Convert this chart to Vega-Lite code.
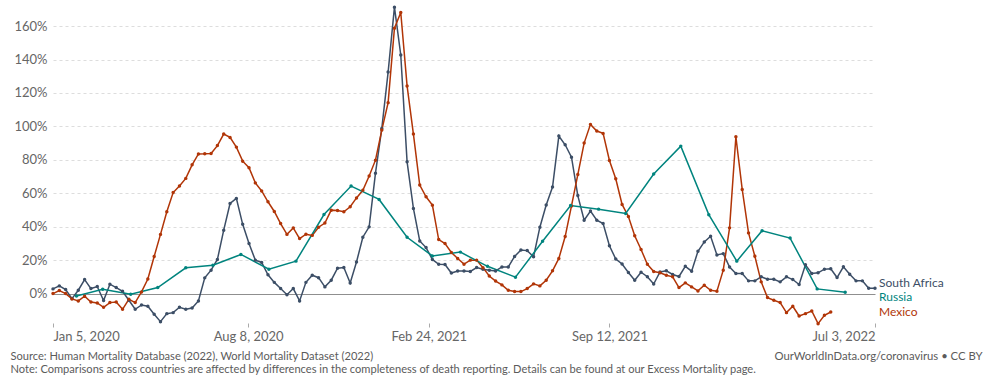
{
  "$schema": "https://vega.github.io/schema/vega-lite/v6.json",
  "width": 822,
  "height": 317,
  "autosize": {"type": "none"},
  "padding": {"left": 53, "top": 6, "right": 128, "bottom": 69},
  "background": "#ffffff",
  "config": {"font": "Lato", "view": {"stroke": null}},
  "data": {
    "format": {"parse": {"date": "date:'%Y-%m-%d'"}},
    "values": [
      {"country":"South Africa","date":"2020-01-05","value":2.8},
      {"country":"South Africa","date":"2020-01-12","value":4.6},
      {"country":"South Africa","date":"2020-01-19","value":2.4},
      {"country":"South Africa","date":"2020-01-26","value":-3.0},
      {"country":"South Africa","date":"2020-02-02","value":2.0},
      {"country":"South Africa","date":"2020-02-09","value":8.4},
      {"country":"South Africa","date":"2020-02-16","value":3.0},
      {"country":"South Africa","date":"2020-02-23","value":4.2},
      {"country":"South Africa","date":"2020-03-01","value":-4.2},
      {"country":"South Africa","date":"2020-03-08","value":5.6},
      {"country":"South Africa","date":"2020-03-15","value":3.6},
      {"country":"South Africa","date":"2020-03-22","value":1.4},
      {"country":"South Africa","date":"2020-03-29","value":-4.0},
      {"country":"South Africa","date":"2020-04-05","value":-9.4},
      {"country":"South Africa","date":"2020-04-12","value":-6.8},
      {"country":"South Africa","date":"2020-04-19","value":-7.6},
      {"country":"South Africa","date":"2020-04-26","value":-12.4},
      {"country":"South Africa","date":"2020-05-03","value":-16.8},
      {"country":"South Africa","date":"2020-05-10","value":-12.0},
      {"country":"South Africa","date":"2020-05-17","value":-11.4},
      {"country":"South Africa","date":"2020-05-24","value":-8.2},
      {"country":"South Africa","date":"2020-05-31","value":-9.4},
      {"country":"South Africa","date":"2020-06-07","value":-8.6},
      {"country":"South Africa","date":"2020-06-14","value":-4.4},
      {"country":"South Africa","date":"2020-06-21","value":9.4},
      {"country":"South Africa","date":"2020-06-28","value":14.0},
      {"country":"South Africa","date":"2020-07-05","value":20.4},
      {"country":"South Africa","date":"2020-07-12","value":37.9},
      {"country":"South Africa","date":"2020-07-19","value":53.9},
      {"country":"South Africa","date":"2020-07-26","value":56.9},
      {"country":"South Africa","date":"2020-08-02","value":41.4},
      {"country":"South Africa","date":"2020-08-09","value":29.9},
      {"country":"South Africa","date":"2020-08-16","value":20.0},
      {"country":"South Africa","date":"2020-08-23","value":18.6},
      {"country":"South Africa","date":"2020-08-30","value":11.2},
      {"country":"South Africa","date":"2020-09-06","value":6.7},
      {"country":"South Africa","date":"2020-09-13","value":3.0},
      {"country":"South Africa","date":"2020-09-20","value":-0.7},
      {"country":"South Africa","date":"2020-09-27","value":3.0},
      {"country":"South Africa","date":"2020-10-04","value":-4.4},
      {"country":"South Africa","date":"2020-10-11","value":6.7},
      {"country":"South Africa","date":"2020-10-18","value":11.0},
      {"country":"South Africa","date":"2020-10-25","value":9.5},
      {"country":"South Africa","date":"2020-11-01","value":4.0},
      {"country":"South Africa","date":"2020-11-08","value":8.0},
      {"country":"South Africa","date":"2020-11-15","value":15.2},
      {"country":"South Africa","date":"2020-11-22","value":15.6},
      {"country":"South Africa","date":"2020-11-29","value":6.3},
      {"country":"South Africa","date":"2020-12-06","value":18.9},
      {"country":"South Africa","date":"2020-12-13","value":33.7},
      {"country":"South Africa","date":"2020-12-20","value":39.9},
      {"country":"South Africa","date":"2020-12-27","value":72.0},
      {"country":"South Africa","date":"2021-01-03","value":98.8},
      {"country":"South Africa","date":"2021-01-10","value":132.5},
      {"country":"South Africa","date":"2021-01-17","value":171.3},
      {"country":"South Africa","date":"2021-01-24","value":142.7},
      {"country":"South Africa","date":"2021-01-31","value":78.8},
      {"country":"South Africa","date":"2021-02-07","value":50.9},
      {"country":"South Africa","date":"2021-02-14","value":31.5},
      {"country":"South Africa","date":"2021-02-21","value":27.5},
      {"country":"South Africa","date":"2021-02-28","value":20.4},
      {"country":"South Africa","date":"2021-03-07","value":17.5},
      {"country":"South Africa","date":"2021-03-14","value":17.4},
      {"country":"South Africa","date":"2021-03-21","value":12.3},
      {"country":"South Africa","date":"2021-03-28","value":13.5},
      {"country":"South Africa","date":"2021-04-04","value":13.5},
      {"country":"South Africa","date":"2021-04-11","value":13.2},
      {"country":"South Africa","date":"2021-04-18","value":15.6},
      {"country":"South Africa","date":"2021-04-25","value":14.5},
      {"country":"South Africa","date":"2021-05-02","value":14.0},
      {"country":"South Africa","date":"2021-05-09","value":13.5},
      {"country":"South Africa","date":"2021-05-16","value":15.9},
      {"country":"South Africa","date":"2021-05-23","value":15.9},
      {"country":"South Africa","date":"2021-05-30","value":22.2},
      {"country":"South Africa","date":"2021-06-06","value":26.1},
      {"country":"South Africa","date":"2021-06-13","value":25.7},
      {"country":"South Africa","date":"2021-06-20","value":22.0},
      {"country":"South Africa","date":"2021-06-27","value":39.7},
      {"country":"South Africa","date":"2021-07-04","value":53.0},
      {"country":"South Africa","date":"2021-07-11","value":63.7},
      {"country":"South Africa","date":"2021-07-18","value":94.2},
      {"country":"South Africa","date":"2021-07-25","value":89.0},
      {"country":"South Africa","date":"2021-08-01","value":81.6},
      {"country":"South Africa","date":"2021-08-08","value":58.6},
      {"country":"South Africa","date":"2021-08-15","value":43.9},
      {"country":"South Africa","date":"2021-08-22","value":49.4},
      {"country":"South Africa","date":"2021-08-29","value":43.9},
      {"country":"South Africa","date":"2021-09-05","value":41.9},
      {"country":"South Africa","date":"2021-09-12","value":28.6},
      {"country":"South Africa","date":"2021-09-19","value":20.7},
      {"country":"South Africa","date":"2021-09-26","value":17.7},
      {"country":"South Africa","date":"2021-10-03","value":12.6},
      {"country":"South Africa","date":"2021-10-10","value":8.0},
      {"country":"South Africa","date":"2021-10-17","value":12.8},
      {"country":"South Africa","date":"2021-10-24","value":10.1},
      {"country":"South Africa","date":"2021-10-31","value":5.7},
      {"country":"South Africa","date":"2021-11-07","value":12.9},
      {"country":"South Africa","date":"2021-11-14","value":13.6},
      {"country":"South Africa","date":"2021-11-21","value":11.4},
      {"country":"South Africa","date":"2021-11-28","value":10.2},
      {"country":"South Africa","date":"2021-12-05","value":16.3},
      {"country":"South Africa","date":"2021-12-12","value":13.4},
      {"country":"South Africa","date":"2021-12-19","value":25.3},
      {"country":"South Africa","date":"2021-12-26","value":30.9},
      {"country":"South Africa","date":"2022-01-02","value":34.3},
      {"country":"South Africa","date":"2022-01-09","value":23.1},
      {"country":"South Africa","date":"2022-01-16","value":23.9},
      {"country":"South Africa","date":"2022-01-23","value":15.9},
      {"country":"South Africa","date":"2022-01-30","value":12.0},
      {"country":"South Africa","date":"2022-02-06","value":12.0},
      {"country":"South Africa","date":"2022-02-13","value":7.6},
      {"country":"South Africa","date":"2022-02-20","value":7.6},
      {"country":"South Africa","date":"2022-02-27","value":10.0},
      {"country":"South Africa","date":"2022-03-06","value":8.6},
      {"country":"South Africa","date":"2022-03-13","value":8.6},
      {"country":"South Africa","date":"2022-03-20","value":7.0},
      {"country":"South Africa","date":"2022-03-27","value":10.0},
      {"country":"South Africa","date":"2022-04-03","value":8.4},
      {"country":"South Africa","date":"2022-04-10","value":5.4},
      {"country":"South Africa","date":"2022-04-17","value":17.2},
      {"country":"South Africa","date":"2022-04-24","value":12.0},
      {"country":"South Africa","date":"2022-05-01","value":12.4},
      {"country":"South Africa","date":"2022-05-08","value":14.6},
      {"country":"South Africa","date":"2022-05-15","value":14.8},
      {"country":"South Africa","date":"2022-05-22","value":9.6},
      {"country":"South Africa","date":"2022-05-29","value":16.0},
      {"country":"South Africa","date":"2022-06-05","value":11.6},
      {"country":"South Africa","date":"2022-06-12","value":7.6},
      {"country":"South Africa","date":"2022-06-19","value":7.6},
      {"country":"South Africa","date":"2022-06-26","value":3.2},
      {"country":"South Africa","date":"2022-07-03","value":3.2},
      {"country":"Mexico","date":"2020-01-05","value":0.0},
      {"country":"Mexico","date":"2020-01-12","value":1.8},
      {"country":"Mexico","date":"2020-01-19","value":0.0},
      {"country":"Mexico","date":"2020-01-26","value":-3.2},
      {"country":"Mexico","date":"2020-02-02","value":-4.4},
      {"country":"Mexico","date":"2020-02-09","value":-1.6},
      {"country":"Mexico","date":"2020-02-16","value":-5.0},
      {"country":"Mexico","date":"2020-02-23","value":-5.6},
      {"country":"Mexico","date":"2020-03-01","value":-8.2},
      {"country":"Mexico","date":"2020-03-08","value":-5.4},
      {"country":"Mexico","date":"2020-03-15","value":-5.0},
      {"country":"Mexico","date":"2020-03-22","value":-9.4},
      {"country":"Mexico","date":"2020-03-29","value":-3.4},
      {"country":"Mexico","date":"2020-04-05","value":-5.4},
      {"country":"Mexico","date":"2020-04-12","value":1.0},
      {"country":"Mexico","date":"2020-04-19","value":8.7},
      {"country":"Mexico","date":"2020-04-26","value":22.2},
      {"country":"Mexico","date":"2020-05-03","value":35.4},
      {"country":"Mexico","date":"2020-05-10","value":48.9},
      {"country":"Mexico","date":"2020-05-17","value":60.4},
      {"country":"Mexico","date":"2020-05-24","value":64.4},
      {"country":"Mexico","date":"2020-05-31","value":68.9},
      {"country":"Mexico","date":"2020-06-07","value":77.0},
      {"country":"Mexico","date":"2020-06-14","value":83.5},
      {"country":"Mexico","date":"2020-06-21","value":83.6},
      {"country":"Mexico","date":"2020-06-28","value":83.8},
      {"country":"Mexico","date":"2020-07-05","value":88.5},
      {"country":"Mexico","date":"2020-07-12","value":95.4},
      {"country":"Mexico","date":"2020-07-19","value":93.4},
      {"country":"Mexico","date":"2020-07-26","value":87.6},
      {"country":"Mexico","date":"2020-08-02","value":79.2},
      {"country":"Mexico","date":"2020-08-09","value":75.3},
      {"country":"Mexico","date":"2020-08-16","value":66.2},
      {"country":"Mexico","date":"2020-08-23","value":61.4},
      {"country":"Mexico","date":"2020-08-30","value":54.9},
      {"country":"Mexico","date":"2020-09-06","value":49.1},
      {"country":"Mexico","date":"2020-09-13","value":41.9},
      {"country":"Mexico","date":"2020-09-20","value":35.4},
      {"country":"Mexico","date":"2020-09-27","value":39.3},
      {"country":"Mexico","date":"2020-10-04","value":32.9},
      {"country":"Mexico","date":"2020-10-11","value":35.5},
      {"country":"Mexico","date":"2020-10-18","value":34.8},
      {"country":"Mexico","date":"2020-10-25","value":39.7},
      {"country":"Mexico","date":"2020-11-01","value":42.2},
      {"country":"Mexico","date":"2020-11-08","value":49.9},
      {"country":"Mexico","date":"2020-11-15","value":49.7},
      {"country":"Mexico","date":"2020-11-22","value":48.9},
      {"country":"Mexico","date":"2020-11-29","value":51.9},
      {"country":"Mexico","date":"2020-12-06","value":57.2},
      {"country":"Mexico","date":"2020-12-13","value":61.8},
      {"country":"Mexico","date":"2020-12-20","value":70.3},
      {"country":"Mexico","date":"2020-12-27","value":79.8},
      {"country":"Mexico","date":"2021-01-03","value":97.8},
      {"country":"Mexico","date":"2021-01-10","value":114.2},
      {"country":"Mexico","date":"2021-01-17","value":158.7},
      {"country":"Mexico","date":"2021-01-24","value":168.1},
      {"country":"Mexico","date":"2021-01-31","value":124.2},
      {"country":"Mexico","date":"2021-02-07","value":95.4},
      {"country":"Mexico","date":"2021-02-14","value":64.9},
      {"country":"Mexico","date":"2021-02-21","value":57.9},
      {"country":"Mexico","date":"2021-02-28","value":52.9},
      {"country":"Mexico","date":"2021-03-07","value":32.3},
      {"country":"Mexico","date":"2021-03-14","value":29.9},
      {"country":"Mexico","date":"2021-03-21","value":24.6},
      {"country":"Mexico","date":"2021-03-28","value":21.0},
      {"country":"Mexico","date":"2021-04-04","value":17.6},
      {"country":"Mexico","date":"2021-04-11","value":20.0},
      {"country":"Mexico","date":"2021-04-18","value":20.0},
      {"country":"Mexico","date":"2021-04-25","value":15.5},
      {"country":"Mexico","date":"2021-05-02","value":10.5},
      {"country":"Mexico","date":"2021-05-09","value":7.5},
      {"country":"Mexico","date":"2021-05-16","value":5.2},
      {"country":"Mexico","date":"2021-05-23","value":2.0},
      {"country":"Mexico","date":"2021-05-30","value":1.2},
      {"country":"Mexico","date":"2021-06-06","value":1.2},
      {"country":"Mexico","date":"2021-06-13","value":3.0},
      {"country":"Mexico","date":"2021-06-20","value":5.8},
      {"country":"Mexico","date":"2021-06-27","value":4.6},
      {"country":"Mexico","date":"2021-07-04","value":8.0},
      {"country":"Mexico","date":"2021-07-11","value":13.6},
      {"country":"Mexico","date":"2021-07-18","value":21.0},
      {"country":"Mexico","date":"2021-07-25","value":34.1},
      {"country":"Mexico","date":"2021-08-01","value":52.4},
      {"country":"Mexico","date":"2021-08-08","value":71.2},
      {"country":"Mexico","date":"2021-08-15","value":90.0},
      {"country":"Mexico","date":"2021-08-22","value":101.2},
      {"country":"Mexico","date":"2021-08-29","value":97.2},
      {"country":"Mexico","date":"2021-09-05","value":95.8},
      {"country":"Mexico","date":"2021-09-12","value":79.6},
      {"country":"Mexico","date":"2021-09-19","value":68.7},
      {"country":"Mexico","date":"2021-09-26","value":53.3},
      {"country":"Mexico","date":"2021-10-03","value":46.1},
      {"country":"Mexico","date":"2021-10-10","value":34.6},
      {"country":"Mexico","date":"2021-10-17","value":26.4},
      {"country":"Mexico","date":"2021-10-24","value":17.5},
      {"country":"Mexico","date":"2021-10-31","value":13.2},
      {"country":"Mexico","date":"2021-11-07","value":12.4},
      {"country":"Mexico","date":"2021-11-14","value":11.0},
      {"country":"Mexico","date":"2021-11-21","value":10.0},
      {"country":"Mexico","date":"2021-11-28","value":3.6},
      {"country":"Mexico","date":"2021-12-05","value":6.4},
      {"country":"Mexico","date":"2021-12-12","value":4.0},
      {"country":"Mexico","date":"2021-12-19","value":1.6},
      {"country":"Mexico","date":"2021-12-26","value":5.0},
      {"country":"Mexico","date":"2022-01-02","value":2.0},
      {"country":"Mexico","date":"2022-01-09","value":1.4},
      {"country":"Mexico","date":"2022-01-16","value":14.0},
      {"country":"Mexico","date":"2022-01-23","value":39.3},
      {"country":"Mexico","date":"2022-01-30","value":93.8},
      {"country":"Mexico","date":"2022-02-06","value":62.3},
      {"country":"Mexico","date":"2022-02-13","value":36.3},
      {"country":"Mexico","date":"2022-02-20","value":22.3},
      {"country":"Mexico","date":"2022-02-27","value":7.0},
      {"country":"Mexico","date":"2022-03-06","value":-2.4},
      {"country":"Mexico","date":"2022-03-13","value":-4.0},
      {"country":"Mexico","date":"2022-03-20","value":-5.4},
      {"country":"Mexico","date":"2022-03-27","value":-11.4},
      {"country":"Mexico","date":"2022-04-03","value":-7.6},
      {"country":"Mexico","date":"2022-04-10","value":-13.4},
      {"country":"Mexico","date":"2022-04-17","value":-12.0},
      {"country":"Mexico","date":"2022-04-24","value":-10.4},
      {"country":"Mexico","date":"2022-05-01","value":-18.0},
      {"country":"Mexico","date":"2022-05-08","value":-13.0},
      {"country":"Mexico","date":"2022-05-15","value":-11.0},
      {"country":"Russia","date":"2020-01-31","value":-1.5},
      {"country":"Russia","date":"2020-02-29","value":2.6},
      {"country":"Russia","date":"2020-03-31","value":-0.4},
      {"country":"Russia","date":"2020-04-30","value":3.6},
      {"country":"Russia","date":"2020-05-31","value":15.4},
      {"country":"Russia","date":"2020-06-30","value":17.0},
      {"country":"Russia","date":"2020-07-31","value":23.4},
      {"country":"Russia","date":"2020-08-31","value":14.6},
      {"country":"Russia","date":"2020-09-30","value":19.4},
      {"country":"Russia","date":"2020-10-31","value":47.3},
      {"country":"Russia","date":"2020-11-30","value":64.3},
      {"country":"Russia","date":"2020-12-31","value":56.3},
      {"country":"Russia","date":"2021-01-31","value":33.7},
      {"country":"Russia","date":"2021-02-28","value":22.5},
      {"country":"Russia","date":"2021-03-31","value":24.8},
      {"country":"Russia","date":"2021-04-30","value":16.3},
      {"country":"Russia","date":"2021-05-31","value":9.8},
      {"country":"Russia","date":"2021-06-30","value":31.3},
      {"country":"Russia","date":"2021-07-31","value":52.7},
      {"country":"Russia","date":"2021-08-31","value":50.5},
      {"country":"Russia","date":"2021-09-30","value":47.9},
      {"country":"Russia","date":"2021-10-31","value":71.5},
      {"country":"Russia","date":"2021-11-30","value":88.2},
      {"country":"Russia","date":"2021-12-31","value":47.2},
      {"country":"Russia","date":"2022-01-31","value":19.4},
      {"country":"Russia","date":"2022-02-28","value":37.6},
      {"country":"Russia","date":"2022-03-31","value":33.2},
      {"country":"Russia","date":"2022-04-30","value":2.8},
      {"country":"Russia","date":"2022-05-31","value":0.8}
    ]
  },
  "encoding": {
    "x": {
      "field": "date",
      "type": "temporal",
      "scale": {"domain": [{"year": 2020, "month": "jan", "date": 5}, {"year": 2022, "month": "jul", "date": 3}]},
      "axis": {
        "values": [
          {"year": 2020, "month": "jan", "date": 5},
          {"year": 2020, "month": "aug", "date": 8},
          {"year": 2021, "month": "feb", "date": 24},
          {"year": 2021, "month": "sep", "date": 12},
          {"year": 2022, "month": "jul", "date": 3}
        ],
        "format": "%b %-d, %Y",
        "labelFlush": true,
        "grid": false,
        "domain": false,
        "tickColor": "#aaaaaa",
        "tickSize": 4,
        "labelPadding": 3,
        "labelFontSize": 13,
        "labelColor": "#666666",
        "title": "OurWorldInData.org/coronavirus • CC BY",
        "titleX": 929,
        "titleY": 33,
        "titleAlign": "right",
        "titleBaseline": "middle",
        "titleFontSize": 11.3,
        "titleFontWeight": "normal",
        "titleColor": "#5b5b5b"
      }
    },
    "y": {
      "field": "value",
      "type": "quantitative",
      "scale": {"domain": [-17.6, 172], "nice": false, "zero": false},
      "axis": {
        "values": [0, 20, 40, 60, 80, 100, 120, 140, 160],
        "labelExpr": "datum.value + '%'",
        "domain": false,
        "ticks": false,
        "grid": true,
        "gridColor": {"condition": {"test": "datum.value === 0", "value": "#8f8f8f"}, "value": "#dddddd"},
        "gridDash": {"condition": {"test": "datum.value === 0", "value": []}, "value": [3, 3]},
        "labelPadding": 6,
        "labelFontSize": 13,
        "labelColor": "#666666",
        "title": [
          "Source: Human Mortality Database (2022), World Mortality Dataset (2022)",
          "Note: Comparisons across countries are affected by differences in the completeness of death reporting. Details can be found at our Excess Mortality page."
        ],
        "titleAngle": 0,
        "titleX": -43,
        "titleY": 344,
        "titleAlign": "left",
        "titleBaseline": "top",
        "titleLineHeight": 13,
        "titleFontSize": 11.1,
        "titleFontWeight": "normal",
        "titleColor": "#5b5b5b"
      }
    },
    "color": {
      "field": "country",
      "type": "nominal",
      "scale": {"domain": ["South Africa", "Russia", "Mexico"], "range": ["#3c4e66", "#00847e", "#b13507"]},
      "legend": null
    }
  },
  "layer": [
    {
      "mark": {"type": "line", "strokeWidth": 1.5, "point": {"filled": true, "size": 12}}
    },
    {
      "transform": [
        {"filter": "datum.country === 'South Africa'"},
        {"joinaggregate": [{"op": "max", "field": "date", "as": "lastDate"}]},
        {"filter": "+datum.date === +datum.lastDate"}
      ],
      "mark": {"type": "text", "align": "left", "baseline": "middle", "dx": 4, "dy": -5, "fontSize": 12},
      "encoding": {
        "x": {"datum": {"year": 2022, "month": "jul", "date": 3}, "type": "temporal"},
        "text": {"field": "country"}
      }
    },
    {
      "transform": [
        {"filter": "datum.country === 'Russia'"},
        {"joinaggregate": [{"op": "max", "field": "date", "as": "lastDate"}]},
        {"filter": "+datum.date === +datum.lastDate"}
      ],
      "mark": {"type": "text", "align": "left", "baseline": "middle", "dx": 4, "dy": 5, "fontSize": 12},
      "encoding": {
        "x": {"datum": {"year": 2022, "month": "jul", "date": 3}, "type": "temporal"},
        "text": {"field": "country"}
      }
    },
    {
      "transform": [
        {"filter": "datum.country === 'Mexico'"},
        {"joinaggregate": [{"op": "max", "field": "date", "as": "lastDate"}]},
        {"filter": "+datum.date === +datum.lastDate"}
      ],
      "mark": {"type": "text", "align": "left", "baseline": "middle", "dx": 4, "dy": 0, "fontSize": 12},
      "encoding": {
        "x": {"datum": {"year": 2022, "month": "jul", "date": 3}, "type": "temporal"},
        "text": {"field": "country"}
      }
    }
  ]
}
